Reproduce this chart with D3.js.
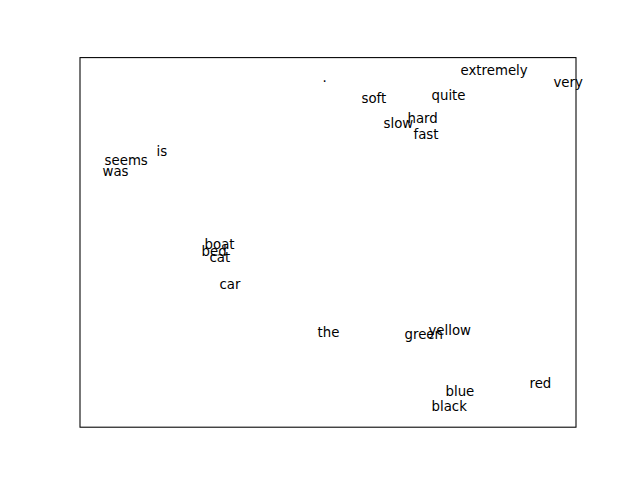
<!DOCTYPE html>
<html>
<head>
<meta charset="utf-8">
<script src="https://cdn.jsdelivr.net/npm/d3@7"></script>
<style>
  html, body { margin: 0; padding: 0; background: #fff; }
  svg { display: block; }
</style>
</head>
<body>
<script>
// Word labels and their 2-D embedding coordinates
const words = ["extremely", "very", "quite", "soft", "hard", "slow", "fast", ".",
               "is", "seems", "was", "boat", "bed", "cat", "car",
               "the", "green", "yellow", "red", "blue", "black"];
const xValues = [1.33, 2.26, 1.04, 0.34, 0.80, 0.56, 0.86, -0.05,
                 -1.71, -2.23, -2.25, -1.23, -1.26, -1.18, -1.08,
                 -0.10, 0.77, 1.01, 2.02, 1.18, 1.04];
const yValues = [1.675, 1.555, 1.43, 1.395, 1.195, 1.145, 1.035, 1.60,
                 0.865, 0.78, 0.67, -0.06, -0.125, -0.185, -0.455,
                 -0.93, -0.95, -0.915, -1.44, -1.52, -1.67];

(function () {
  const W = 640, H = 480;
  const mLeft = 80, mRight = 576, mTop = 57.6, mBottom = 427.2;

  const svg = d3.select("body").append("svg")
    .attr("width", W).attr("height", H);

  function padded(vals) {
    const [a, b] = d3.extent(vals);
    const p = (b - a) * 0.05;
    return [a - p, b + p];
  }

  const x = d3.scaleLinear().domain(padded(xValues)).range([mLeft, mRight]);
  const y = d3.scaleLinear().domain(padded(yValues)).range([mBottom, mTop]);

  const data = words.map((w, i) => ({ w, x: xValues[i], y: yValues[i] }));

  svg.append("g")
    .selectAll("text")
    .data(data)
    .join("text")
    .attr("x", d => x(d.x))
    .attr("y", d => y(d.y))
    .attr("dy", 0.5)
    .attr("font-family", "DejaVu Sans, sans-serif")
    .attr("font-size", "13.33px")
    .attr("fill", "#000")
    .text(d => d.w);

  svg.append("rect")
    .attr("x", mLeft).attr("y", mTop)
    .attr("width", mRight - mLeft).attr("height", mBottom - mTop)
    .attr("fill", "none")
    .attr("stroke", "#000")
    .attr("stroke-width", 1.07);
})();
</script>
</body>
</html>
